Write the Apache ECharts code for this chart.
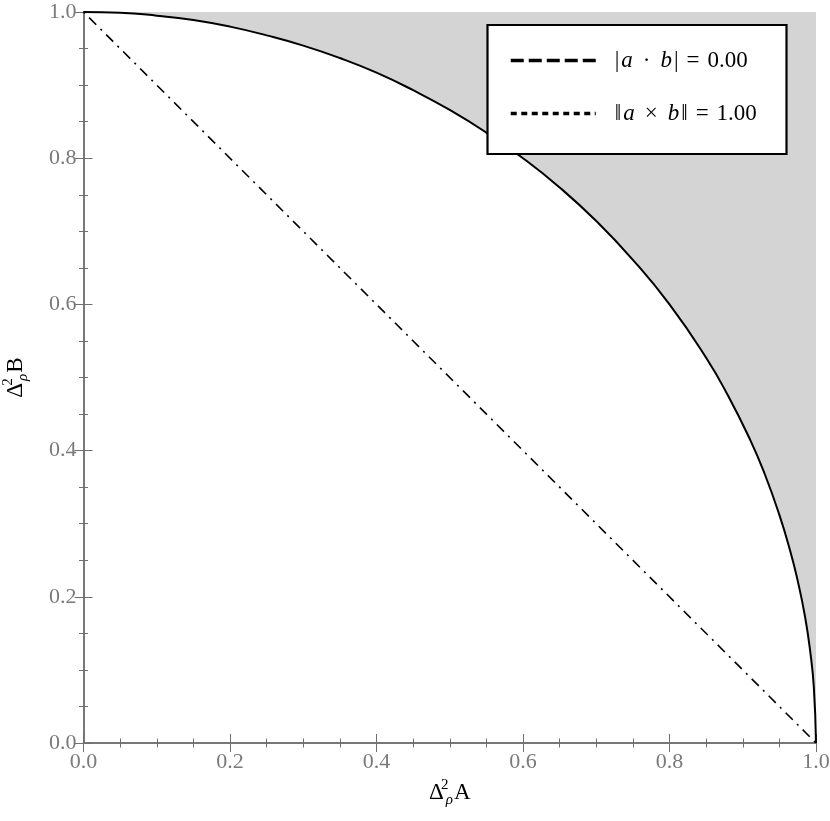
<!DOCTYPE html>
<html>
<head>
<meta charset="utf-8">
<script src="https://cdn.jsdelivr.net/npm/echarts@6/dist/echarts.min.js"></script>
<style>
html,body{margin:0;padding:0;background:#fff;}
#chart{width:830px;height:821px;}
</style>
</head>
<body>
<div id="chart"></div>
<script>
// Boundary curve (solid)
const curveX = [0, 0.05, 0.1, 0.15, 0.2, 0.25, 0.3, 0.35, 0.4, 0.45, 0.5, 0.55, 0.6, 0.65, 0.7, 0.75, 0.8, 0.85, 0.88, 0.91, 0.93, 0.95, 0.965, 0.975, 0.985, 0.992, 0.997, 1.0];
const curveY = [1.0, 0.999, 0.995, 0.989, 0.98, 0.968, 0.954, 0.937, 0.917, 0.893, 0.866, 0.835, 0.80, 0.76, 0.714, 0.661, 0.60, 0.527, 0.475, 0.415, 0.368, 0.312, 0.262, 0.222, 0.173, 0.126, 0.077, 0.0];
// Dash-dot diagonal
const diagX = [0, 1];
const diagY = [1, 0];
// Legend entries
const legendNames = ['|a · b| = 0.00', '‖a × b‖ = 1.00'];
const ticks = [0, 0.2, 0.4, 0.6, 0.8, 1.0];

const chart = echarts.init(document.getElementById('chart'));
const serif = '"Liberation Serif", "DejaVu Serif", serif';
const gray = '#6f6f6f';

function legendFmt(name) {
  if (name === legendNames[0]) return '{n||}{i|a}{op|·}{i|b}{n||}{op|=}{n|0.00}';
  return '{n|‖}{i|a}{op|×}{i|b}{n|‖}{op|=}{n|1.00}';
}
const nameRich = {
  d: {fontFamily: serif, fontSize: 23, color: '#000', lineHeight: 30, verticalAlign: 'middle'},
  sup: {fontFamily: serif, fontSize: 15, color: '#000', width: 0, lineHeight: 15, verticalAlign: 'top', padding: [0,0,0,1]},
  sub: {fontFamily: serif, fontSize: 15, fontStyle: 'italic', color: '#000', lineHeight: 15, verticalAlign: 'bottom', padding: [0,1,0,1]}
};

const axisCommon = {
  type: 'value', min: 0, max: 1, interval: 0.2,
  splitLine: {show: false},
  axisLine: {show: true, lineStyle: {color: gray, width: 1.5}},
  axisTick: {show: true, inside: true, length: 9, lineStyle: {color: gray, width: 1}},
  minorTick: {show: true, splitNumber: 4, length: 4.5, lineStyle: {color: gray, width: 1}},
  axisLabel: {fontFamily: serif, fontSize: 22, color: '#7a7a7a', formatter: v => v.toFixed(1)}
};

const option = {
  animation: false,
  backgroundColor: '#fff',
  grid: {left: 83.5, right: 14, top: 12, bottom: 78, containLabel: false, outerBoundsMode: 'none'},
  xAxis: [
    Object.assign({}, axisCommon, {
      position: 'bottom',
      axisLabel: Object.assign({}, axisCommon.axisLabel, {margin: 8}),
      name: '{d|Δ}{sup|2}{sub|ρ}{d|A}',
      nameLocation: 'middle', nameGap: 34,
      nameTextStyle: {rich: nameRich}
    }),
    Object.assign({}, axisCommon, {position: 'top', axisLabel: {show: false}})
  ],
  yAxis: [
    Object.assign({}, axisCommon, {
      position: 'left',
      axisLabel: Object.assign({}, axisCommon.axisLabel, {margin: 7}),
      name: '{d|Δ}{sup|2}{sub|ρ}{d|B}',
      nameLocation: 'middle', nameGap: 53, nameRotate: 90,
      nameTextStyle: {rich: nameRich}
    }),
    Object.assign({}, axisCommon, {position: 'right', axisLabel: {show: false}})
  ],
  legend: {
    data: legendNames,
    orient: 'vertical',
    left: 487, top: 25,
    padding: [24, 20, 20, 22],
    itemWidth: 85, itemHeight: 14, itemGap: 30,
    z: 20,
    formatter: legendFmt,
    selectedMode: false,
    itemStyle: {color: 'rgba(0,0,0,0)', borderWidth: 0, opacity: 0},
    lineStyle: {width: 3.5, color: '#000'},
    textStyle: {
      padding: [0, 0, 0, 14],
      rich: {
        n: {fontFamily: serif, fontSize: 23, color: '#000', lineHeight: 24},
        i: {fontFamily: serif, fontSize: 23, fontStyle: 'italic', color: '#000', lineHeight: 24, padding: [0, 2, 0, 2]},
        op: {fontFamily: serif, fontSize: 23, color: '#000', lineHeight: 24, padding: [0, 8, 0, 8]}
      }
    }
  },
  graphic: [{
    type: 'rect', z: 15, silent: true,
    shape: {x: 487.5, y: 25, width: 299, height: 129},
    style: {fill: '#fff', stroke: '#000', lineWidth: 2.2}
  }],
  series: [
    {
      name: 'boundary', type: 'line', xAxisIndex: 0, yAxisIndex: 0,
      data: curveX.map((x, i) => [x, curveY[i]]),
      showSymbol: false, symbol: 'none',
      smooth: 0.5,
      lineStyle: {color: '#000', width: 2},
      areaStyle: {origin: 'end', color: '#d4d4d4', opacity: 1},
      z: 2
    },
    {
      name: 'diag', type: 'line', xAxisIndex: 0, yAxisIndex: 0,
      data: diagX.map((x, i) => [x, diagY[i]]),
      showSymbol: false, symbol: 'none',
      lineStyle: {color: '#000', width: 1.6, type: [10, 6, 2, 6], dashOffset: -8},
      z: 3
    },
    {
      name: legendNames[0], type: 'line', data: [], symbol: 'none',
      lineStyle: {color: '#000', width: 3.5, type: [13, 5]},
      itemStyle: {color: 'rgba(0,0,0,0)'}
    },
    {
      name: legendNames[1], type: 'line', data: [], symbol: 'none',
      lineStyle: {color: '#000', width: 3.5, type: [6, 4.5]},
      itemStyle: {color: 'rgba(0,0,0,0)'}
    }
  ]
};
chart.setOption(option);
</script>
</body>
</html>
